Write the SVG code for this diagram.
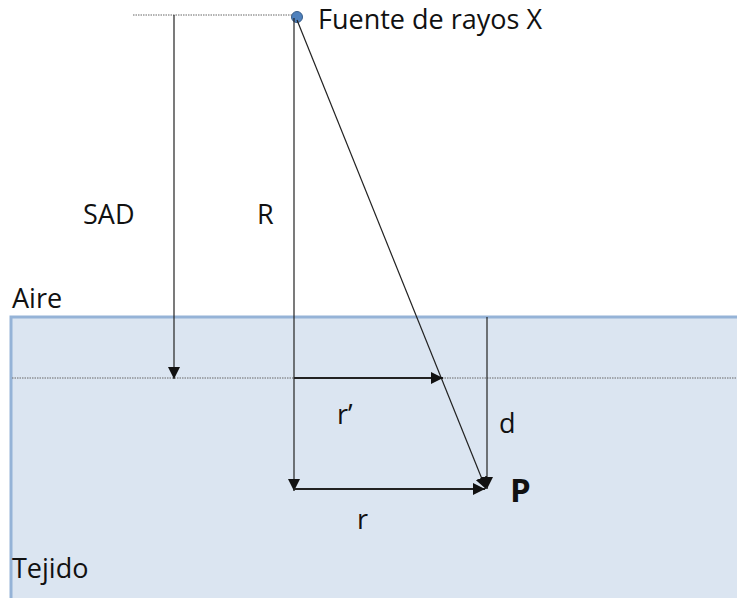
<svg xmlns="http://www.w3.org/2000/svg" width="737" height="598" viewBox="0 0 737 598">
<defs>
<style>
.t{font-family:"Open Sans","Liberation Sans",sans-serif;font-size:27px;fill:#111}
.ln{stroke:#222;stroke-width:1.2;fill:none}
.dot{stroke:#666;stroke-width:1;stroke-dasharray:1.5 1;fill:none}
</style>
<marker id="ah2" viewBox="0 0 10 10" refX="10" refY="5" markerWidth="12" markerHeight="12" markerUnits="userSpaceOnUse" orient="auto">
<path d="M0,0 L10,5 L0,10 z" fill="#111"/>
</marker>
</defs>
<rect width="737" height="598" fill="#fff"/>
<g id="tejido">
<rect x="11" y="317" width="740" height="300" fill="#dbe5f1" stroke="#95b3d7" stroke-width="3"/>
<text class="t" x="12" y="578">Tejido</text>
</g>
<g id="aire">
<text class="t" x="12" y="308">Aire</text>
</g>
<g id="fuente">
<circle cx="297" cy="17" r="5.5" fill="#4f81bd" stroke="#385d8a" stroke-width="1"/>
<text class="t" x="318" y="29">Fuente de rayos X</text>
</g>
<g id="connectors">
<line class="dot" x1="133" y1="15" x2="293" y2="15"/>
<line class="dot" x1="12" y1="378" x2="737" y2="378"/>
<line class="ln" x1="174" y1="15" x2="174" y2="379" marker-end="url(#ah2)"/>
<line class="ln" x1="294" y1="18" x2="294" y2="491" marker-end="url(#ah2)"/>
<line class="ln" x1="297" y1="20" x2="486" y2="489" marker-end="url(#ah2)"/>
<line x1="294" y1="378" x2="443" y2="378" stroke="#222" stroke-width="2.2" marker-end="url(#ah2)"/>
<line class="ln" x1="487" y1="317" x2="487" y2="489" marker-end="url(#ah2)"/>
<line x1="294" y1="489" x2="485" y2="489" stroke="#222" stroke-width="1.8" marker-end="url(#ah2)"/>
</g>
<g id="labels">
<text class="t" x="83" y="224">SAD</text>
<text class="t" x="257" y="224">R</text>
<text class="t" x="337" y="424">r’</text>
<text class="t" x="499" y="433">d</text>
<text class="t" x="357" y="529">r</text>
<text x="510" y="502" font-family="'Open Sans','Liberation Sans',sans-serif" font-weight="bold" font-size="33" fill="#111">P</text>
</g>
</svg>
